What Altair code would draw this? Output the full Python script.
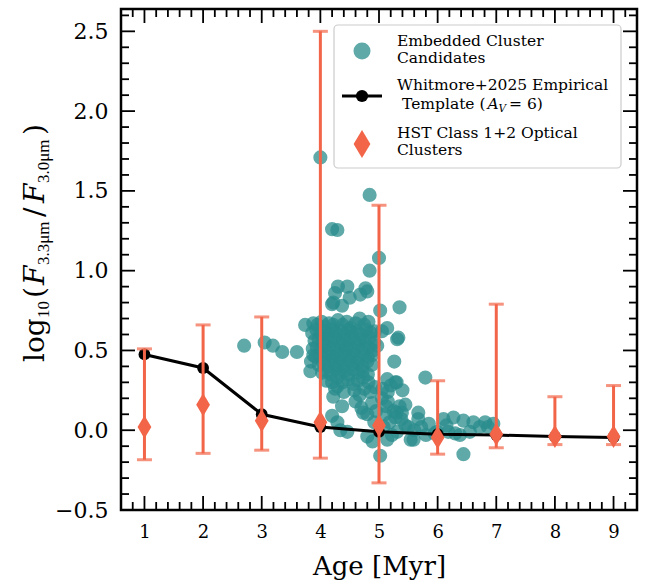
import altair as alt
import pandas as pd

# ---------------- data ----------------
emb_age = [
    4.00, 4.84, 4.20, 4.29, 5.00, 4.84, 5.35, 4.30, 4.25, 4.46, 4.77, 4.68, 4.80, 4.50, 4.20, 4.37, 4.22,
    2.70, 3.05, 3.19, 3.35, 3.60, 3.84, 3.83, 3.88, 3.74,
    5.14, 5.31, 5.33, 5.26, 5.79, 5.14, 5.28, 5.20, 5.02, 5.05,
    3.88, 3.95, 4.02, 4.08, 4.15, 4.22, 4.30, 4.38, 4.45, 4.52, 4.60, 4.67, 4.75, 4.82,
    3.86, 3.93, 4.00, 4.07, 4.13, 4.20, 4.27, 4.34, 4.41, 4.48, 4.55, 4.63, 4.70, 4.78, 4.86, 4.93,
    3.90, 3.97, 4.04, 4.11, 4.18, 4.25, 4.32, 4.39, 4.46, 4.53, 4.60, 4.68, 4.76, 4.84, 4.92,
    3.87, 3.94, 4.01, 4.08, 4.15, 4.23, 4.30, 4.37, 4.44, 4.51, 4.58, 4.66, 4.74, 4.82, 4.90, 4.97,
    3.92, 4.00, 4.07, 4.14, 4.21, 4.28, 4.35, 4.42, 4.50, 4.57, 4.65, 4.73, 4.81, 4.88,
    3.97, 4.05, 4.12, 4.19, 4.27, 4.34, 4.41, 4.49, 4.56, 4.64, 4.72, 4.80, 4.88,
    4.03, 4.11, 4.18, 4.26, 4.33, 4.41, 4.48, 4.56, 4.64, 4.72, 4.81,
    4.10, 4.20, 4.29, 4.38, 4.47, 4.56, 4.64, 4.73, 4.82,
    4.29, 4.25, 4.40, 4.58, 4.67, 4.75, 4.85, 4.93,
    4.37, 4.22, 4.60, 4.70, 4.80, 4.88, 4.95, 4.73,
    4.20, 4.29, 4.34, 4.46, 4.80, 4.89, 4.92, 5.02,
    5.06, 5.30, 5.15, 5.30, 5.39, 5.40, 5.45, 5.31, 5.14, 5.54, 5.67, 5.05, 5.10, 5.18, 5.25,
    5.35, 5.12, 5.22, 5.38, 5.50, 5.08, 5.28, 5.15, 5.45, 5.60, 5.59, 5.67,
    5.72, 5.85, 5.95, 6.10, 6.27, 6.44, 6.61, 6.81, 6.95, 6.18, 6.38, 6.55, 6.72, 6.86,
    5.99, 6.44, 5.80, 6.30, 6.15,
]
emb_ratio = [
    1.71, 1.475, 1.26, 1.255, 1.08, 1.00, 0.77, 0.90, 0.86, 0.90, 0.89, 0.85, 0.87, 0.83, 0.79, 0.78, 0.80,
    0.53, 0.55, 0.53, 0.49, 0.49, 0.43, 0.37, 0.47, 0.66,
    0.64, 0.57, 0.58, 0.43, 0.33, 0.32, 0.30, 0.28, 0.75, 0.62,
    0.67, 0.66, 0.68, 0.65, 0.67, 0.66, 0.69, 0.66, 0.68, 0.64, 0.67, 0.70, 0.66, 0.68,
    0.61, 0.63, 0.60, 0.62, 0.60, 0.63, 0.61, 0.62, 0.60, 0.63, 0.61, 0.62, 0.60, 0.63, 0.61, 0.62,
    0.56, 0.57, 0.55, 0.57, 0.56, 0.58, 0.55, 0.57, 0.56, 0.58, 0.55, 0.57, 0.56, 0.58, 0.55,
    0.51, 0.52, 0.50, 0.53, 0.51, 0.52, 0.50, 0.53, 0.51, 0.52, 0.50, 0.53, 0.51, 0.52, 0.50, 0.53,
    0.46, 0.47, 0.45, 0.48, 0.46, 0.47, 0.45, 0.48, 0.46, 0.47, 0.45, 0.48, 0.46, 0.47,
    0.41, 0.42, 0.40, 0.43, 0.41, 0.42, 0.40, 0.43, 0.41, 0.42, 0.40, 0.43, 0.41,
    0.36, 0.37, 0.35, 0.38, 0.36, 0.37, 0.35, 0.38, 0.36, 0.37, 0.35,
    0.31, 0.30, 0.33, 0.30, 0.32, 0.29, 0.31, 0.33, 0.30,
    0.275, 0.26, 0.24, 0.25, 0.22, 0.26, 0.24, 0.27,
    0.15, 0.21, 0.18, 0.14, 0.10, 0.17, 0.12, 0.11,
    0.09, 0.05, 0.00, -0.01, -0.04, -0.07, 0.05, -0.16,
    0.26, 0.30, 0.18, 0.11, 0.11, 0.25, 0.03, -0.01, -0.06, -0.06, 0.07, 0.20, 0.10, 0.05, 0.12,
    0.15, 0.15, -0.03, 0.07, 0.02, 0.02, 0.08, 0.24, 0.16, 0.00, -0.06, 0.11,
    0.02, 0.04, -0.02, 0.07, 0.08, 0.06, 0.05, 0.05, 0.04, -0.01, -0.03, -0.01, 0.02, 0.02,
    -0.01, -0.15, -0.03, -0.02, 0.03,
]

tmpl_age = [1, 2, 3, 4, 5, 6, 7, 8, 9]
tmpl_ratio = [0.475, 0.39, 0.10, 0.02, -0.01, -0.025, -0.03, -0.04, -0.045]

hst_age = [1, 2, 3, 4, 5, 6, 7, 8, 9]
hst_ratio = [0.02, 0.16, 0.06, 0.05, 0.03, -0.045, -0.025, -0.04, -0.04]
hst_low = [-0.185, -0.145, -0.125, -0.175, -0.33, -0.15, -0.11, -0.09, -0.09]
hst_high = [0.51, 0.66, 0.71, 2.50, 1.41, 0.31, 0.79, 0.21, 0.28]

x_major = [1, 2, 3, 4, 5, 6, 7, 8, 9]
y_major = [-0.5, 0.0, 0.5, 1.0, 1.5, 2.0, 2.5]
x_minor = [round(0.6 + 0.2 * i, 2) for i in range(45) if abs((0.6 + 0.2 * i) - round(0.6 + 0.2 * i)) > 1e-6]
y_minor = [round(-0.5 + 0.1 * i, 2) for i in range(32) if abs(((-0.5 + 0.1 * i) * 2) - round((-0.5 + 0.1 * i) * 2)) > 1e-6]

# ---------------- style ----------------
W, H = 516, 501
TEAL = "#2a8c8c"
ORANGE = "#f26548"
SERIF = "DejaVu Serif"
DIAMOND = "M0,-1L0.6,0L0,1L-0.6,0Z"

xs = alt.Scale(domain=[0.6, 9.4], nice=False, zero=False)
ys = alt.Scale(domain=[-0.5, 2.64], nice=False, zero=False)
xaxis = alt.Axis(values=x_major, title="Age [Myr]", format="d")
yaxis = alt.Axis(values=y_major, title="", format=".1f")


def X(field="age"):
    return alt.X(f"{field}:Q", scale=xs, axis=xaxis)


def Y(field="val"):
    return alt.Y(f"{field}:Q", scale=ys, axis=yaxis)


emb = pd.DataFrame({"age": emb_age, "val": emb_ratio})
tmpl = pd.DataFrame({"age": tmpl_age, "val": tmpl_ratio})
hst = pd.DataFrame({"age": hst_age, "val": hst_ratio, "lo": hst_low, "hi": hst_high})
one = pd.DataFrame({"k": [0]})

scatter = alt.Chart(emb).mark_circle(size=200, color=TEAL, opacity=0.75).encode(x=X(), y=Y())
tline = alt.Chart(tmpl).mark_line(color="black", strokeWidth=3).encode(x=X(), y=Y())
tpts = alt.Chart(tmpl).mark_circle(size=140, color="black", opacity=1).encode(x=X(), y=Y())
stems = alt.Chart(hst).mark_rule(color=ORANGE, strokeWidth=3).encode(
    x=X(), y=Y("lo"), y2=alt.Y2("hi"))
cap_lo = alt.Chart(hst).mark_tick(color=ORANGE, orient="horizontal", size=15, thickness=3).encode(
    x=X(), y=Y("lo"))
cap_hi = alt.Chart(hst).mark_tick(color=ORANGE, orient="horizontal", size=15, thickness=3).encode(
    x=X(), y=Y("hi"))
diam = alt.Chart(hst).mark_point(shape=DIAMOND, filled=True, size=529, color=ORANGE, opacity=1).encode(
    x=X(), y=Y())


# inward ticks on all four sides
def xticks(vals, L):
    df = pd.DataFrame({"age": vals})
    b = alt.Chart(df).mark_rule(color="black", strokeWidth=1.8).encode(
        x=X(), y=alt.value(H), y2=alt.value(H - L))
    t = alt.Chart(df).mark_rule(color="black", strokeWidth=1.8).encode(
        x=X(), y=alt.value(0), y2=alt.value(L))
    return [b, t]


def yticks(vals, L):
    df = pd.DataFrame({"val": vals})
    l = alt.Chart(df).mark_rule(color="black", strokeWidth=1.8).encode(
        y=Y(), x=alt.value(0), x2=alt.value(L))
    r = alt.Chart(df).mark_rule(color="black", strokeWidth=1.8).encode(
        y=Y(), x=alt.value(W), x2=alt.value(W - L))
    return [l, r]


ticks = xticks(x_major, 14) + xticks(x_minor, 8) + yticks(y_major, 14) + yticks(y_minor, 8)

# legend (manual)
LX = 241
TX = 276
LF = 15.5
leg_box = alt.Chart(one).mark_rect(fill="white", fillOpacity=0.85, stroke="#cccccc", strokeWidth=1.2,
                                   cornerRadius=4).encode(
    x=alt.value(213), x2=alt.value(500), y=alt.value(16), y2=alt.value(159))
leg_c = alt.Chart(one).mark_circle(size=290, color=TEAL, opacity=0.75).encode(x=alt.value(LX), y=alt.value(42))
leg_l = alt.Chart(one).mark_rule(color="black", strokeWidth=3).encode(
    x=alt.value(LX - 20), x2=alt.value(LX + 20), y=alt.value(87))
leg_lc = alt.Chart(one).mark_circle(size=150, color="black", opacity=1).encode(x=alt.value(LX), y=alt.value(87))
leg_d = alt.Chart(one).mark_point(shape=DIAMOND, filled=True, size=784, color=ORANGE, opacity=1).encode(
    x=alt.value(LX), y=alt.value(135))


def txt(s, x, y, size=LF, font=SERIF, style="normal", angle=0):
    return alt.Chart(one).mark_text(text=s, font=font, fontSize=size, fontStyle=style, align="left",
                                    baseline="alphabetic", color="black", angle=angle).encode(
        x=alt.value(x), y=alt.value(y))


leg_txt = [
    txt("Embedded Cluster", TX, 37),
    txt("Candidates", TX, 54),
    txt("Whitmore+2025 Empirical", TX, 81),
    txt("Template (", TX + 5, 100),
    txt("A", TX + 90.5, 100, style="italic"),
    txt("V", TX + 101.5, 103, size=10.5, style="italic"),
    txt("= 6)", TX + 112, 100),
    txt("HST Class 1+2 Optical", TX, 129),
    txt("Clusters", TX, 146),
]

# y-axis title (manual, with subscripts), rotated to read bottom-to-top
BX = 44 - 121
SX = 49 - 121
MAIN = 28
SUB = 17
SUBF = "Liberation Serif"
ytitle = [
    txt("log", BX, 362 - 9, size=MAIN, angle=270),
    txt("10", SX, 318 - 9, size=SUB, font=SUBF, angle=270),
    txt("(", BX, 298 - 9, size=MAIN, angle=270),
    txt("F", BX, 285 - 9, size=MAIN, style="italic", angle=270),
    txt("3.3μm", SX, 265 - 9, size=SUB, font=SUBF, angle=270),
    txt("/", BX, 217 - 9, size=MAIN, angle=270),
    txt("F", BX, 203 - 9, size=MAIN, style="italic", angle=270),
    txt("3.0μm", SX, 183 - 9, size=SUB, font=SUBF, angle=270),
    txt(")", BX, 135 - 9, size=MAIN, angle=270),
]

layers = [scatter, tline, tpts, stems, cap_lo, cap_hi, diam] + ticks + \
    [leg_box, leg_c, leg_l, leg_lc, leg_d] + leg_txt + ytitle

chart = alt.layer(*layers).properties(
    width=W, height=H,
    autosize=alt.AutoSizeParams(type="none"),
    padding={"left": 121, "top": 9, "right": 12, "bottom": 73},
).configure_view(
    stroke="black", strokeWidth=2.5
).configure_axis(
    domain=False, ticks=False, grid=False, labelColor="black", labelFont=SERIF, titleFont=SERIF,
    titleColor="black", titleFontWeight="normal",
).configure_axisX(
    labelFontSize=18, labelPadding=13, titleFontSize=26, titlePadding=12,
).configure_axisY(
    labelFontSize=22, labelPadding=13,
)

chart.save("out.html", embed_options={"renderer": "svg", "actions": False})
